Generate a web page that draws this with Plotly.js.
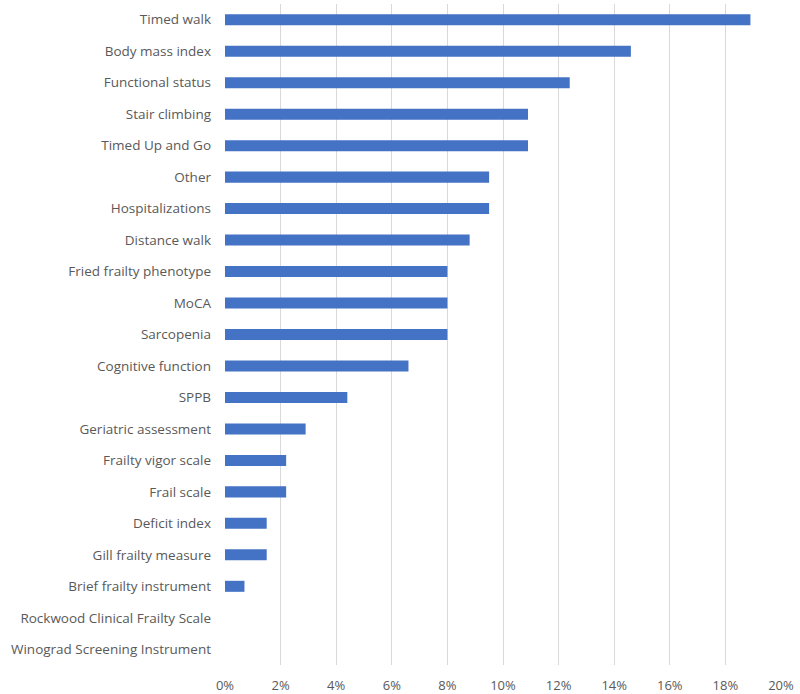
<!DOCTYPE html>
<html>
<head>
<meta charset="utf-8">
<script src="https://cdn.plot.ly/plotly-3.0.1.min.js"></script>
<style>html,body{margin:0;padding:0;background:#fff;}#chart{width:800px;height:694px;}</style>
</head>
<body>
<div id="chart"></div>
<script>
const categories = [
  "Timed walk", "Body mass index", "Functional status", "Stair climbing",
  "Timed Up and Go", "Other", "Hospitalizations", "Distance walk",
  "Fried frailty phenotype", "MoCA", "Sarcopenia", "Cognitive function",
  "SPPB", "Geriatric assessment", "Frailty vigor scale", "Frail scale",
  "Deficit index", "Gill frailty measure", "Brief frailty instrument",
  "Rockwood Clinical Frailty Scale", "Winograd Screening Instrument"
];
const values = [
  0.189, 0.146, 0.124, 0.109, 0.109, 0.095, 0.095, 0.088,
  0.080, 0.080, 0.080, 0.066, 0.044, 0.029, 0.022, 0.022,
  0.015, 0.015, 0.007, 0, 0
];
const tickVals = [0, 0.02, 0.04, 0.06, 0.08, 0.10, 0.12, 0.14, 0.16, 0.18, 0.20];
const tickText = ["0%", "2%", "4%", "6%", "8%", "10%", "12%", "14%", "16%", "18%", "20%"];

const trace = {
  type: 'bar',
  orientation: 'h',
  y: categories,
  x: values,
  marker: {color: '#4472C4'},
  hoverinfo: 'x+y'
};

const layout = {
  width: 800, height: 694,
  margin: {l: 225, r: 19, t: 4, b: 29},
  paper_bgcolor: '#ffffff', plot_bgcolor: '#ffffff',
  font: {family: 'Open Sans, sans-serif', size: 13.5, color: '#595959'},
  bargap: 0.65,
  showlegend: false,
  xaxis: {
    range: [0, 0.2],
    tickvals: tickVals, ticktext: tickText,
    showgrid: true, gridcolor: '#d9d9d9', gridwidth: 1,
    zeroline: false, showline: false, ticks: '',
    ticklabelstandoff: 11,
    tickfont: {size: 13, color: '#595959'}
  },
  yaxis: {
    type: 'category',
    autorange: 'reversed',
    showgrid: false, zeroline: false, showline: false, ticks: '',
    ticklabelstandoff: 13,
    tickfont: {size: 13.5, color: '#595959'}
  }
};

Plotly.newPlot('chart', [trace], layout, {displayModeBar: false, staticPlot: true});
</script>
</body>
</html>
